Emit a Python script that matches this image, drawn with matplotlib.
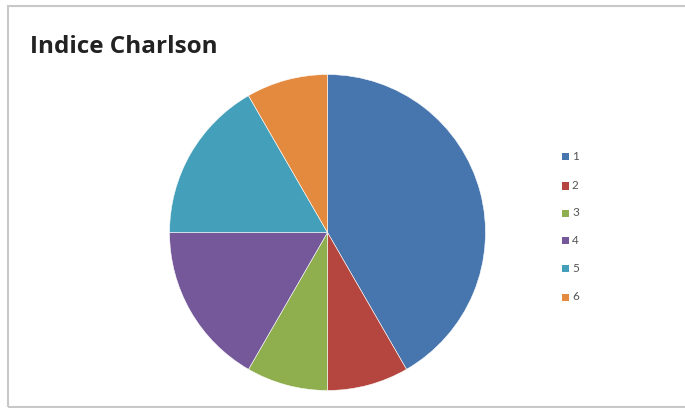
import matplotlib.pyplot as plt
from matplotlib.patches import Rectangle

# data
kategori = ['1', '2', '3', '4', '5', '6']
nilai = [5, 1, 1, 2, 2, 1]
warna = ['#4775AD', '#B4463F', '#8FAF4E', '#74589A', '#44A0BA', '#E48A3F']

W, H = 685, 408
fig = plt.figure(figsize=(W / 100, H / 100), dpi=100)
fig.patch.set_facecolor('white')

# bingkai abu-abu seperti chart excel
fig.add_artist(Rectangle((8 / W, 1 - 407 / H), 700 / W, 401 / H,
                         transform=fig.transFigure, fill=False,
                         edgecolor='#C8C8C8', linewidth=1.5))

# judul
fig.text(30 / W, 1 - 47 / H, 'Indice Charlson', fontsize=17.5,
         fontweight='bold', family='Open Sans', color='#222222', va='center')

# pie
r = 158
cx, cy = 327.5, 232.5
ax = fig.add_axes([(cx - r) / W, 1 - (cy + r) / H, 2 * r / W, 2 * r / H])
wedges, _ = ax.pie(nilai, colors=warna, startangle=90, counterclock=False,
                   radius=1, wedgeprops=dict(edgecolor='white', linewidth=0.4))
ax.set_xlim(-1, 1)
ax.set_ylim(-1, 1)
ax.set_aspect('equal')
ax.axis('off')

# legenda
y_leg = [157, 186, 213, 240, 268, 297]
for lab, c, y in zip(kategori, warna, y_leg):
    fig.add_artist(Rectangle((562 / W, 1 - (y + 3.5) / H), 7 / W, 7 / H,
                             transform=fig.transFigure, facecolor=c,
                             edgecolor='none'))
    fig.text(572 / W, 1 - y / H, lab, fontsize=8.5, color='#555555',
             va='center', family='Lato')

fig.savefig('out.png', dpi=100)
